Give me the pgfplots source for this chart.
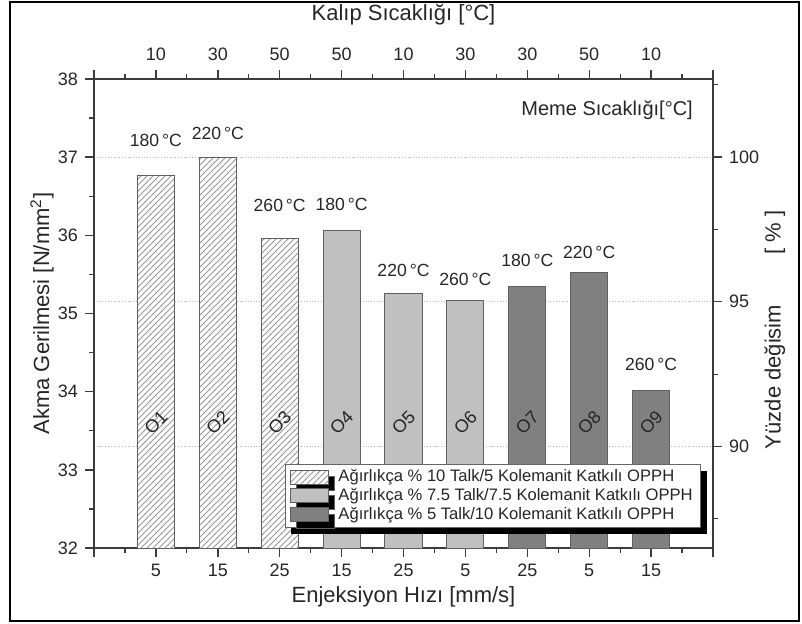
\documentclass[border=0pt]{standalone}
\usepackage{pgfplots}
\pgfplotsset{compat=1.18}
\usepackage{fontspec}
\setmainfont{Liberation Sans}
\usetikzlibrary{patterns,shadows}
\definecolor{lightbar}{RGB}{192,192,192}
\definecolor{darkbar}{RGB}{128,128,128}
\definecolor{edgecol}{RGB}{95,95,95}
\definecolor{axcol}{RGB}{60,60,60}
\pgfplotsset{
  base/.style={
    at={(47pt,37.5pt)}, anchor=south west,
    scale only axis, width=309.5pt, height=234.5pt,
    xmin=0, xmax=10,
    tick align=outside,
    major tick length=4.5pt, minor tick length=2.5pt,
    every tick/.style={axcol, line width=0.7pt},
    every minor tick/.style={axcol, line width=0.6pt},
    axis line style={axcol, line width=0.9pt},
    /pgf/number format/assume math mode=true,
    ticklabel style={font=\fontsize{9}{10}\selectfont, text=black!85},
    label style={font=\fontsize{11}{13}\selectfont, text=black!85},
    extra x ticks={0,10}, extra x tick labels={},
    xtick={1,...,9},
    minor xtick={0.5,1.5,2.5,3.5,4.5,5.5,6.5,7.5,8.5,9.5},
  },
  mybar/.style={ybar, bar width=0.6, bar shift=0pt, line width=0.5pt, draw=edgecol,
    legend image code/.code={\draw[##1] (0pt,-3.5pt) rectangle (18.8pt,3.5pt);}},
}
\begin{document}
\begin{tikzpicture}
\useasboundingbox (0,0) rectangle (401pt,311.5pt);
% right / top axis with grid
\begin{axis}[base,
  axis x line*=top, axis y line*=right,
  ymin=86.49, ymax=102.70,
  ytick={90,95,100}, minor ytick={87.5,92.5,97.5,102.5},
  ymajorgrids, grid style={densely dotted, gray!55, line width=0.5pt},
  xticklabels={10,30,50,50,10,30,30,50,10},
  xlabel={Kalıp Sıcaklığı [°C]},
  xlabel style={at={(axis description cs:0.5,1)}, anchor=center, yshift=32pt},
  xticklabel style={yshift=1pt},
  ylabel={Yüzde değisim\quad\quad\ [ \% ]},
  ylabel style={at={(axis description cs:1.1,0.465)}, anchor=center},
]
\addplot[draw=none, mark=none] coordinates {(0,90)};
\end{axis}
% main bar axis
\begin{axis}[base,
  axis x line*=bottom, axis y line*=left,
  ymin=32, ymax=38,
  ytick={32,33,34,35,36,37,38},
  minor ytick={32.5,33.5,34.5,35.5,36.5,37.5},
  xticklabels={5,15,25,15,25,5,25,5,15},
  xlabel={Enjeksiyon Hızı [mm/s]},
  xlabel style={at={(axis description cs:0.5,0)}, anchor=center, yshift=-24.5pt},
  ylabel={Akma Gerilmesi [N/mm\textsuperscript{2}]},
  ylabel style={at={(axis description cs:-0.084,0.5)}, anchor=center},
  legend cell align=left,
  legend style={at={(0.981,0.043)}, anchor=south east,
    font=\fontsize{8.3}{9.5}\selectfont, text=black!85,
    draw=gray!80!black, line width=0.5pt, fill=white,
    inner xsep=2.5pt, inner ysep=0.5pt, row sep=-2.2pt, column sep=3.2pt,
    nodes={inner xsep=1.5pt},
    drop shadow={shadow xshift=3pt, shadow yshift=-3.3pt, fill=black, opacity=1}},
]
\addplot[mybar, fill=white, postaction={pattern=north east lines, pattern color=gray!80}]
  coordinates {(1,36.77) (2,36.99) (3,35.96)};
\addlegendentry{Ağırlıkça \% 10 Talk/5 Kolemanit Katkılı OPPH}
\addplot[mybar, fill=lightbar]
  coordinates {(4,36.06) (5,35.26) (6,35.17)};
\addlegendentry{Ağırlıkça \% 7.5 Talk/7.5 Kolemanit Katkılı OPPH}
\addplot[mybar, fill=darkbar]
  coordinates {(7,35.35) (8,35.53) (9,34.02)};
\addlegendentry{Ağırlıkça \% 5 Talk/10 Kolemanit Katkılı OPPH}
% temperature labels
\begin{scope}[every node/.style={font=\fontsize{8.8}{10}\selectfont, text=black!85, anchor=center}]
\node at (axis cs:1,37.21) {180\,°C};
\node at (axis cs:2,37.31) {220\,°C};
\node at (axis cs:3,36.38) {260\,°C};
\node at (axis cs:4,36.40) {180\,°C};
\node at (axis cs:5,35.55) {220\,°C};
\node at (axis cs:6,35.44) {260\,°C};
\node at (axis cs:7,35.68) {180\,°C};
\node at (axis cs:8,35.78) {220\,°C};
\node at (axis cs:9,34.35) {260\,°C};
\end{scope}
\begin{scope}[every node/.style={font=\fontsize{9}{10}\selectfont, text=black!85, rotate=45, anchor=center}]
\node at (axis cs:1,33.61) {O1};
\node at (axis cs:2,33.61) {O2};
\node at (axis cs:3,33.61) {O3};
\node at (axis cs:4,33.61) {O4};
\node at (axis cs:5,33.61) {O5};
\node at (axis cs:6,33.61) {O6};
\node at (axis cs:7,33.61) {O7};
\node at (axis cs:8,33.61) {O8};
\node at (axis cs:9,33.61) {O9};
\end{scope}
\node[anchor=east, inner sep=0pt, font=\fontsize{10}{12}\selectfont, text=black!85] at (rel axis cs:0.968,0.934) {Meme Sıcaklığı[°C]};
\end{axis}
\draw[line width=1pt] (5pt,1pt) rectangle (399.5pt,310.5pt);
\end{tikzpicture}
\end{document}
